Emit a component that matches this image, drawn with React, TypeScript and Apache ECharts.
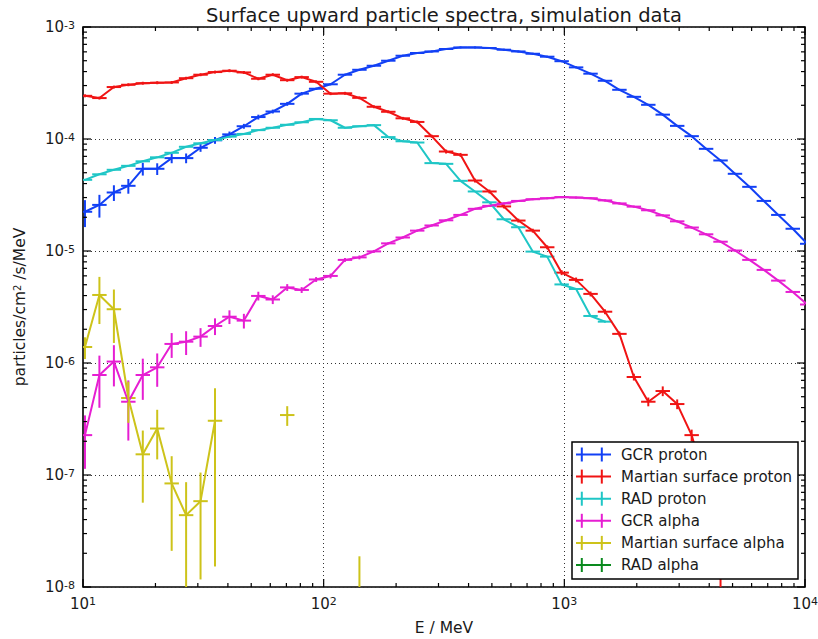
import React, { useEffect, useRef } from "react";
import * as echarts from "echarts";

// Bin centres (MeV), logarithmic bins of 0.06 dex
const energies = [
  10.19, 11.7, 13.44, 15.43, 17.72, 20.34, 23.36, 26.82, 30.79, 35.36,
  40.6, 46.61, 53.52, 61.45, 70.56, 81.02, 93.03, 106.8, 122.6, 140.8,
  161.7, 185.6, 213.1, 244.7, 281.0, 322.6, 370.4, 425.3, 488.4, 560.8,
  643.9, 739.3, 848.9, 974.7, 1119, 1285, 1476, 1694, 1945, 2233,
  2564, 2944, 3381, 3882, 4457, 5118, 5876, 6747, 7747, 8895,
  10213,
];

// Half bin width, in decades (horizontal error bars)
const BIN_HALF_WIDTH_DEX = 0.03;

// Fluxes in particles/cm^2/s/MeV, relative errors alongside
const gcrProton = [
  2.24e-5, 2.58e-5, 3.33e-5, 3.82e-5, 5.42e-5, 5.42e-5, 6.75e-5, 6.75e-5, 8.35e-5, 9.74e-5,
  1.1e-4, 1.3e-4, 1.57e-4, 1.76e-4, 2.06e-4, 2.54e-4, 2.81e-4, 3.08e-4, 3.75e-4, 4.15e-4,
  4.51e-4, 5.0e-4, 5.54e-4, 5.86e-4, 6.05e-4, 6.36e-4, 6.57e-4, 6.57e-4, 6.49e-4, 6.27e-4,
  6.05e-4, 5.77e-4, 5.43e-4, 4.95e-4, 4.36e-4, 3.83e-4, 3.31e-4, 2.75e-4, 2.38e-4, 2.02e-4,
  1.65e-4, 1.31e-4, 1.06e-4, 8.17e-5, 6.43e-5, 4.89e-5, 3.74e-5, 2.8e-5, 2.1e-5, 1.58e-5,
  1.16e-5,
];
const gcrProtonErr = [
  0.27, 0.23, 0.16, 0.15, 0.13, 0.12, 0.1, 0.1, 0.08, 0.07,
  0.06, 0.05, 0.05, 0.04, 0.04, 0.035, 0.02, 0.02, 0.02, 0.02,
  0.02, 0.02, 0.02, 0.02, 0.02, 0.02, 0.02, 0.02, 0.02, 0.02,
  0.02, 0.02, 0.02, 0.02, 0.02, 0.02, 0.02, 0.02, 0.02, 0.02,
  0.02, 0.02, 0.02, 0.02, 0.02, 0.02, 0.02, 0.02, 0.02, 0.02,
  0.02,
];

const marsProton = [
  2.43e-4, 2.32e-4, 2.91e-4, 3.05e-4, 3.15e-4, 3.18e-4, 3.2e-4, 3.49e-4, 3.75e-4, 3.96e-4,
  4.07e-4, 3.93e-4, 3.45e-4, 3.75e-4, 3.35e-4, 3.57e-4, 3.24e-4, 2.54e-4, 2.56e-4, 2.33e-4,
  1.94e-4, 1.75e-4, 1.53e-4, 1.42e-4, 1.06e-4, 7.73e-5, 7.22e-5, 4.26e-5, 3.4e-5, 2.5e-5,
  1.87e-5, 1.52e-5, 1.08e-5, 6.41e-6, 5.52e-6, 4.14e-6, 2.87e-6, 1.82e-6, 7.5e-7, 4.51e-7,
  5.62e-7, 4.3e-7, 2.27e-7, 8.0e-8, 1.5e-8, null, null, null, null, null,
  null,
];
const marsProtonErr = [
  0.03, 0.03, 0.03, 0.03, 0.03, 0.03, 0.03, 0.03, 0.03, 0.03,
  0.03, 0.03, 0.03, 0.03, 0.03, 0.03, 0.03, 0.03, 0.03, 0.03,
  0.03, 0.03, 0.03, 0.03, 0.03, 0.04, 0.04, 0.04, 0.04, 0.04,
  0.04, 0.04, 0.04, 0.05, 0.05, 0.05, 0.05, 0.05, 0.07, 0.09,
  0.1, 0.1, 0.12, 0.3, 0.5, 0, 0, 0, 0, 0,
  0,
];

const radProton = [
  4.32e-5, 4.84e-5, 5.31e-5, 5.76e-5, 6.32e-5, 6.86e-5, 7.53e-5, 8.52e-5, 9.15e-5, 9.78e-5,
  1.05e-4, 1.11e-4, 1.2e-4, 1.26e-4, 1.34e-4, 1.41e-4, 1.51e-4, 1.47e-4, 1.26e-4, 1.3e-4,
  1.33e-4, 1.04e-4, 9.54e-5, 9.3e-5, 6.09e-5, 6.0e-5, 4.23e-5, 3.4e-5, 2.72e-5, 1.92e-5,
  1.63e-5, 9.88e-6, 8.91e-6, 5.03e-6, 4.58e-6, 2.63e-6, 2.34e-6, null, null, null,
  null, null, null, null, null, null, null, null, null, null,
  null,
];
const radProtonErr = [
  0.01, 0.01, 0.01, 0.01, 0.01, 0.01, 0.01, 0.01, 0.01, 0.01,
  0.01, 0.01, 0.01, 0.01, 0.01, 0.01, 0.01, 0.01, 0.01, 0.01,
  0.01, 0.01, 0.01, 0.01, 0.01, 0.01, 0.01, 0.01, 0.01, 0.01,
  0.01, 0.01, 0.01, 0.015, 0.015, 0.02, 0.02, 0, 0, 0,
  0, 0, 0, 0, 0, 0, 0, 0, 0, 0,
  0,
];

const gcrAlpha = [
  2.27e-7, 7.81e-7, 1.03e-6, 4.51e-7, 7.81e-7, 9.15e-7, 1.48e-6, 1.55e-6, 1.72e-6, 2.14e-6,
  2.59e-6, 2.39e-6, 3.97e-6, 3.69e-6, 4.73e-6, 4.49e-6, 5.57e-6, 5.99e-6, 8.33e-6, 8.77e-6,
  9.92e-6, 1.17e-5, 1.32e-5, 1.52e-5, 1.69e-5, 1.88e-5, 2.1e-5, 2.38e-5, 2.53e-5, 2.66e-5,
  2.8e-5, 2.9e-5, 2.96e-5, 3.03e-5, 3.0e-5, 2.96e-5, 2.83e-5, 2.66e-5, 2.49e-5, 2.31e-5,
  2.08e-5, 1.84e-5, 1.62e-5, 1.41e-5, 1.21e-5, 1.01e-5, 8.33e-6, 6.78e-6, 5.44e-6, 4.31e-6,
  3.33e-6,
];
const gcrAlphaErr = [
  0.5, 0.49, 0.4, 0.55, 0.4, 0.33, 0.25, 0.24, 0.19, 0.17,
  0.14, 0.15, 0.09, 0.09, 0.07, 0.06, 0.05, 0.05, 0.04, 0.04,
  0.03, 0.02, 0.02, 0.02, 0.02, 0.02, 0.02, 0.02, 0.02, 0.02,
  0.02, 0.02, 0.02, 0.02, 0.02, 0.02, 0.02, 0.02, 0.02, 0.02,
  0.02, 0.02, 0.02, 0.02, 0.02, 0.02, 0.02, 0.02, 0.02, 0.02,
  0.02,
];

const marsAlpha = [
  1.39e-6, 4.05e-6, 3.02e-6, 4.87e-7, 1.53e-7, 2.6e-7, 8.41e-8, 4.38e-8, 5.84e-8, 3.05e-7,
  null, null, null, null, 3.43e-7, null, null, null, null, 4.0e-9,
  null, null, null, null, null, null, null, null, null, null,
  null, null, null, null, null, null, null, null, null, null,
  null, null, null, null, null, null, null, null, null, null,
  null,
];
const marsAlphaErr = [
  0.22, 0.45, 0.5, 0.4, 0.63, 0.47, 0.75, 0.97, 0.8, 0.95,
  0, 0, 0, 0, 0.2, 0, 0, 0, 0, 3.7,
  0, 0, 0, 0, 0, 0, 0, 0, 0, 0,
  0, 0, 0, 0, 0, 0, 0, 0, 0, 0,
  0, 0, 0, 0, 0, 0, 0, 0, 0, 0,
  0,
];

// No RAD alpha points fall inside the plotted range
const radAlpha: (number | null)[] = [];
const radAlphaErr: number[] = [];

type Spectrum = {
  name: string;
  color: string;
  values: (number | null)[];
  errors: number[];
};

const spectra: Spectrum[] = [
  { name: "GCR proton", color: "#1240f5", values: gcrProton, errors: gcrProtonErr },
  { name: "Martian surface proton", color: "#f01414", values: marsProton, errors: marsProtonErr },
  { name: "RAD proton", color: "#1fc6c6", values: radProton, errors: radProtonErr },
  { name: "GCR alpha", color: "#e61ed2", values: gcrAlpha, errors: gcrAlphaErr },
  { name: "Martian surface alpha", color: "#cdc31a", values: marsAlpha, errors: marsAlphaErr },
  { name: "RAD alpha", color: "#0a8a1e", values: radAlpha, errors: radAlphaErr },
];

const FONT = "DejaVu Sans";
const TEXT_COLOR = "#1a1a1a";
const X_MIN = 10;
const X_MAX = 10000;
const Y_MIN = 1e-8;
const Y_MAX = 1e-3;

const binFactor = Math.pow(10, BIN_HALF_WIDTH_DEX);

function renderErrorBar(params: any, api: any) {
  const E = api.value(0);
  const v = api.value(1);
  const e = api.value(2);
  const cs = params.coordSys;
  const left = cs.x;
  const right = cs.x + cs.width;
  const top = cs.y;
  const bottom = cs.y + cs.height;
  const c = api.coord([E, v]);
  const xl = api.coord([E / binFactor, v])[0];
  const xr = api.coord([E * binFactor, v])[0];
  const yTop = api.coord([E, v * (1 + e)])[1];
  const yBot = api.coord([E, Math.max(v * (1 - e), 1e-14)])[1];
  const style = { stroke: api.visual("color"), lineWidth: 2 };
  const children: any[] = [];
  if (c[1] >= top && c[1] <= bottom) {
    const a = Math.max(xl, left);
    const b = Math.min(xr, right);
    if (b > a) children.push({ type: "line", shape: { x1: a, y1: c[1], x2: b, y2: c[1] }, style });
  }
  if (c[0] >= left && c[0] <= right) {
    const a = Math.max(yTop, top);
    const b = Math.min(yBot, bottom);
    if (b > a) children.push({ type: "line", shape: { x1: c[0], y1: a, x2: c[0], y2: b }, style });
  }
  return { type: "group", children };
}

// Log-axis tick marks (majors at decades, minors at 2..9), drawn inward on all four sides
const xTicks: number[][] = [];
for (let d = 1; d <= 4; d++) {
  for (let m = 1; m <= 9; m++) {
    const v = m * Math.pow(10, d);
    if (v > X_MAX * 1.0001) break;
    xTicks.push([v, 1e-5, 0, m === 1 ? 1 : 0]);
  }
}
const yTicks: number[][] = [];
for (let d = -8; d <= -3; d++) {
  for (let m = 1; m <= 9; m++) {
    const v = m * Math.pow(10, d);
    if (v > Y_MAX * 1.0001) break;
    yTicks.push([100, v, 1, m === 1 ? 1 : 0]);
  }
}

function renderTick(params: any, api: any) {
  const kind = api.value(2);
  const major = api.value(3);
  const cs = params.coordSys;
  const len = major ? 8 : 4;
  const style = { stroke: "#000", lineWidth: 1.2 };
  if (kind === 0) {
    const x = api.coord([api.value(0), 1e-5])[0];
    const b = cs.y + cs.height;
    return {
      type: "group",
      children: [
        { type: "line", shape: { x1: x, y1: b, x2: x, y2: b - len }, style },
        { type: "line", shape: { x1: x, y1: cs.y, x2: x, y2: cs.y + len }, style },
      ],
    };
  }
  const y = api.coord([100, api.value(1)])[1];
  const r = cs.x + cs.width;
  return {
    type: "group",
    children: [
      { type: "line", shape: { x1: cs.x, y1: y, x2: cs.x + len, y2: y }, style },
      { type: "line", shape: { x1: r, y1: y, x2: r - len, y2: y }, style },
    ],
  };
}

const powerLabel = (value: number) => {
  const exp = Math.round(Math.log10(value));
  return `{n|10}{e|${exp}}`;
};

const labelRich = {
  n: { fontSize: 15, fontFamily: FONT, color: TEXT_COLOR },
  e: { fontSize: 11, fontFamily: FONT, color: TEXT_COLOR, verticalAlign: "top" },
};

function buildLegend() {
  const children: any[] = [
    {
      type: "rect",
      shape: { x: 572, y: 442, width: 226, height: 137 },
      style: { fill: "#fff", stroke: "#000", lineWidth: 1.5 },
      z: 100,
    },
  ];
  spectra.forEach((s, i) => {
    const cy = 454.5 + 22.1 * i;
    const st = { stroke: s.color, lineWidth: 2 };
    children.push(
      { type: "line", shape: { x1: 576, y1: cy, x2: 611, y2: cy }, style: st, z: 101 },
      { type: "line", shape: { x1: 581.8, y1: cy - 7, x2: 581.8, y2: cy + 7 }, style: st, z: 101 },
      { type: "line", shape: { x1: 601.8, y1: cy - 7, x2: 601.8, y2: cy + 7 }, style: st, z: 101 },
      {
        type: "text",
        x: 621,
        y: cy,
        style: {
          text: s.name,
          fill: TEXT_COLOR,
          fontSize: 15,
          fontFamily: FONT,
          verticalAlign: "middle",
        },
        z: 101,
      }
    );
  });
  return children;
}

export default function App() {
  const ref = useRef<HTMLDivElement>(null);

  useEffect(() => {
    if (!ref.current) return;
    const chart = echarts.init(ref.current, undefined, { renderer: "svg" });

    const series: any[] = [];
    spectra.forEach((s) => {
      series.push({
        name: s.name,
        type: "line",
        data: energies.map((E, i) => {
          const v = s.values[i];
          return [E, v == null ? "-" : v];
        }),
        showSymbol: false,
        connectNulls: false,
        clip: true,
        lineStyle: { color: s.color, width: 2 },
        itemStyle: { color: s.color },
        silent: true,
      });
      const bars: number[][] = [];
      energies.forEach((E, i) => {
        const v = s.values[i];
        if (v != null) bars.push([E, v, s.errors[i] ?? 0]);
      });
      series.push({
        name: s.name,
        type: "custom",
        renderItem: renderErrorBar,
        data: bars,
        itemStyle: { color: s.color },
        clip: true,
        silent: true,
      });
    });
    series.push({
      name: "ticks",
      type: "custom",
      renderItem: renderTick,
      data: [...xTicks, ...yTicks],
      silent: true,
      z: 5,
    });

    chart.setOption({
      animation: false,
      backgroundColor: "#fff",
      grid: {
        left: 83,
        right: 13,
        top: 27,
        bottom: 52,
        containLabel: false,
        outerBoundsMode: "none",
        show: true,
        borderColor: "#000",
        borderWidth: 1.6,
        backgroundColor: "transparent",
      },
      xAxis: {
        type: "log",
        logBase: 10,
        min: X_MIN,
        max: X_MAX,
        axisLine: { show: false },
        axisTick: { show: false },
        splitLine: { show: true, lineStyle: { color: "#333", type: [1, 3], width: 1 } },
        axisLabel: { formatter: powerLabel, rich: labelRich, margin: 9 },
        name: "E / MeV",
        nameLocation: "middle",
        nameGap: 33,
        nameTextStyle: { fontSize: 15.5, fontFamily: FONT, color: TEXT_COLOR },
      },
      yAxis: {
        type: "log",
        logBase: 10,
        min: Y_MIN,
        max: Y_MAX,
        axisLine: { show: false },
        axisTick: { show: false },
        splitLine: { show: true, lineStyle: { color: "#333", type: [1, 3], width: 1 } },
        axisLabel: { formatter: powerLabel, rich: labelRich, margin: 8 },
        name: "{a|particles/cm}{s|2}{a| /s/MeV}",
        nameLocation: "middle",
        nameGap: 55,
        nameTextStyle: {
          fontSize: 15.5,
          fontFamily: FONT,
          color: TEXT_COLOR,
          rich: {
            a: { fontSize: 15.5, fontFamily: FONT, color: TEXT_COLOR },
            s: { fontSize: 10, fontFamily: FONT, color: TEXT_COLOR, verticalAlign: "top" },
          },
        },
      },
      graphic: [
        {
          type: "text",
          x: 444,
          y: 15,
          style: {
            text: "Surface upward particle spectra, simulation data",
            fill: TEXT_COLOR,
            fontSize: 19.5,
            fontFamily: FONT,
            align: "center",
            verticalAlign: "middle",
          },
        },
        ...buildLegend(),
      ],
      series,
    });

    return () => chart.dispose();
  }, []);

  return (
    <div
      ref={ref}
      style={{ position: "fixed", left: 0, top: 0, width: 818, height: 639, background: "#fff" }}
    />
  );
}
